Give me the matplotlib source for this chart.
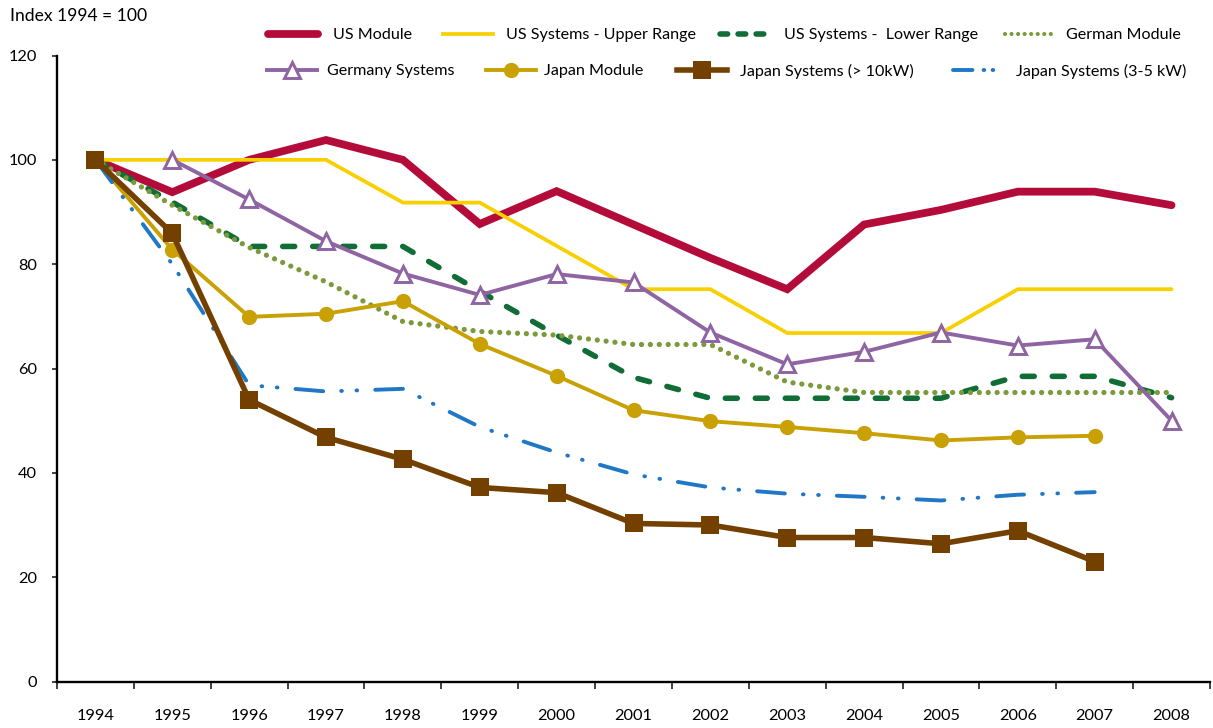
import numpy as np
import matplotlib
matplotlib.use("Agg")
import matplotlib.pyplot as plt
from matplotlib.lines import Line2D

plt.rcParams['font.family'] = ['Lato', 'DejaVu Sans']
plt.rcParams['lines.scale_dashes'] = False

# ---------------- data ----------------
years = ["1994", "1995", "1996", "1997", "1998", "1999", "2000", "2001",
         "2002", "2003", "2004", "2005", "2006", "2007", "2008"]
nan = np.nan
us_module = [100, 93.8, 100, 103.8, 100, 87.7, 94.0, 87.6, 81.2, 75.2, 87.6, 90.4, 93.9, 93.9, 91.3]
us_sys_upper = [100, 100, 100, 100, 91.8, 91.8, 83.5, 75.2, 75.2, 66.8, 66.8, 66.8, 75.2, 75.2, 75.2]
us_sys_lower = [100, 91.9, 83.4, 83.4, 83.4, 74.8, 66.4, 58.3, 54.3, 54.3, 54.3, 54.3, 58.5, 58.5, 54.4]
german_module = [100, 91.3, 83.2, 76.6, 69.0, 67.1, 66.4, 64.6, 64.6, 57.4, 55.4, 55.4, 55.4, 55.4, 55.4]
germany_systems = [nan, 100, 92.4, 84.4, 78.2, 74.1, 78.1, 76.5, 66.9, 60.8, 63.2, 66.9, 64.4, 65.6, 50.0]
japan_module = [100, 82.8, 69.9, 70.5, 72.9, 64.7, 58.6, 52.0, 49.9, 48.8, 47.6, 46.2, 46.8, 47.1, nan]
japan_sys_10kw = [100, 85.9, 54.0, 46.8, 42.6, 37.2, 36.2, 30.3, 30.0, 27.6, 27.6, 26.4, 28.9, 23.0, nan]
japan_sys_3_5kw = [100, 80.0, 56.8, 55.6, 56.1, 48.8, 43.9, 39.7, 37.2, 36.0, 35.4, 34.7, 35.8, 36.3, nan]

labels = ["US Module", "US Systems - Upper Range", "US Systems -  Lower Range", "German Module",
          "Germany Systems", "Japan Module", "Japan Systems (> 10kW)", "Japan Systems (3-5 kW)"]
series = [us_module, us_sys_upper, us_sys_lower, german_module,
          germany_systems, japan_module, japan_sys_10kw, japan_sys_3_5kw]
yticks = [0, 20, 40, 60, 80, 100, 120]

# ---------------- styles ----------------
red, yellow, green, olive = "#B40C3A", "#F8D000", "#0F6D35", "#7B9A3A"
purple, gold, brown, blue = "#8E64A2", "#C9A104", "#744000", "#1F77C6"

styles = [
    dict(color=red, lw=5.6, solid_capstyle='round', solid_joinstyle='miter', zorder=3),
    dict(color=yellow, lw=2.7, solid_capstyle='round', zorder=3.1),
    dict(color=green, lw=4.0, dashes=(8.6, 13), dash_capstyle='round', zorder=3.2),
    dict(color=olive, lw=3.8, dashes=(0.01, 6.4), dash_capstyle='round', zorder=3.3),
    dict(color=purple, lw=2.8, marker='^', ms=11.5, mfc='white', mec=purple, mew=2.1, zorder=3.4),
    dict(color=gold, lw=2.8, marker='o', ms=11, mec=gold, mew=0, zorder=3.5),
    dict(color=brown, lw=4.0, marker='s', ms=13.5, mec=brown, mew=0, zorder=3.7),
    dict(color=blue, lw=2.8, dashes=(20, 13, 0.5, 10.5, 0.5, 13), dash_capstyle='round', zorder=3.6),
]
legend_styles = [
    dict(color=red, lw=5.6, solid_capstyle='round'),
    dict(color=yellow, lw=2.7),
    dict(color=green, lw=4.0, dashes=(5.5, 7.5), dash_capstyle='round'),
    dict(color=olive, lw=3.0, dashes=(0.01, 4.7), dash_capstyle='round'),
    dict(color=purple, lw=2.8, marker='^', ms=11.5, mfc='white', mec=purple, mew=2.1),
    dict(color=gold, lw=2.8, marker='o', ms=11, mec=gold, mew=0),
    dict(color=brown, lw=4.0, marker='s', ms=13.5, mec=brown, mew=0),
    dict(color=blue, lw=2.8, dashes=(14, 8, 0.5, 6, 0.5, 30), dash_capstyle='round'),
]
# legend layout (pixels): left edge of handle, vertical centre, text gap
leg_pos = [(268, 35, 15), (443, 35, 13), (720, 35, 14), (1005, 35, 11),
           (267, 71, 10), (486, 71, 8), (677, 71, 13), (953, 71, 13)]

W, H = 1213, 728
fig = plt.figure(figsize=(W / 100, H / 100), dpi=100)
ax = fig.add_axes([57 / W, 1 - 681.5 / H, (1210 - 57) / W, (681.5 - 55.5) / H])

x = np.arange(len(years))
for vals, st in zip(series, styles):
    ax.plot(x, np.array(vals, dtype=float), **st)

ax.set_xlim(-0.5, len(years) - 0.5)
ax.set_ylim(0, 120)
ax.set_yticks(yticks)
ax.set_yticklabels([str(v) for v in yticks])
ax.set_xticks(x)
ax.set_xticklabels(years)
ax.set_xticks(np.arange(-0.5, len(years)), minor=True)
ax.tick_params(axis='x', which='major', length=0, pad=20, labelsize=11.8, colors='black')
ax.tick_params(axis='x', which='minor', length=5, width=1.3, direction='out', color='#333333')
ax.tick_params(axis='y', which='major', length=3.6, width=1.3, pad=11, labelsize=11.8, color='#333333')
for s in ['top', 'right']:
    ax.spines[s].set_visible(False)
for s in ['left', 'bottom']:
    ax.spines[s].set_linewidth(1.7)
    ax.spines[s].set_color('black')

fig.text(10 / W, 1 - 16 / H, "Index 1994 = 100", ha='left', va='center', fontsize=12.6)

fs = 11.6
fpx = fs * 100 / 72
for lab, lst, (px, py, gap) in zip(labels, legend_styles, leg_pos):
    h = Line2D([], [], **lst)
    fig.legend(handles=[h], labels=[lab], loc='center left',
               bbox_to_anchor=(px / W, 1 - py / H), bbox_transform=fig.transFigure,
               frameon=False, borderpad=0, borderaxespad=0, fontsize=fs,
               handlelength=50 / fpx, handletextpad=gap / fpx, numpoints=1)

fig.savefig("out.png", dpi=100)
